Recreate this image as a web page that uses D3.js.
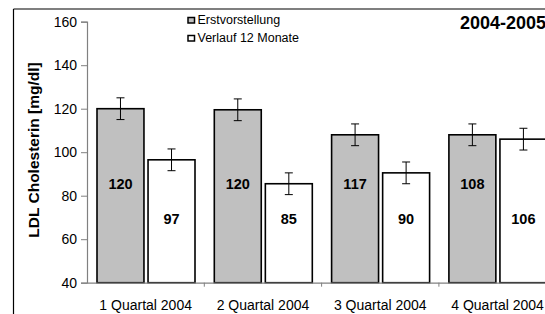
<!DOCTYPE html>
<html>
<head>
<meta charset="utf-8">
<script src="https://cdn.jsdelivr.net/npm/d3@7"></script>
<style>
  body { margin: 0; background: #fff; }
  svg { display: block; font-family: "Liberation Sans", Arial, sans-serif; }
</style>
</head>
<body>
<div class="chart"></div>
<script>
// data
const quarters = ["1 Quartal 2004", "2 Quartal 2004", "3 Quartal 2004", "4 Quartal 2004"]
const seriesNames = ["Erstvorstellung", "Verlauf 12 Monate"]
const erstValues = [120, 119.5, 108, 108]
const verlaufValues = [96.5, 85.5, 90.5, 106]
const erstLabels = [120, 120, 117, 108]
const verlaufLabels = [97, 85, 90, 106]
const erstError = [5, 5, 5, 5]
const verlaufError = [5, 5, 5, 5]
const yTicks = [40, 60, 80, 100, 120, 140, 160]

const width = 545, height = 314
const margin = ({top: 21.7, left: 87, bottom: 31.3})

const colors = {erst: "#c0c0c0", verlauf: "#ffffff"}

const rows = quarters.map((q, i) => ({
  quarter: q,
  bars: [
    {key: "erst", value: erstValues[i], label: erstLabels[i], err: erstError[i]},
    {key: "verlauf", value: verlaufValues[i], label: verlaufLabels[i], err: verlaufError[i]}
  ]
}))

const svg = d3.select(".chart").append("svg")
  .attr("width", width)
  .attr("height", height)

// outer frame (only top and left edges show)
svg.append("line").attr("x1", 13.5).attr("x2", width).attr("y1", 9).attr("y2", 9)
  .attr("stroke", "#000").attr("stroke-width", 1.2)
svg.append("line").attr("x1", 13.5).attr("x2", 13.5).attr("y1", 9).attr("y2", height)
  .attr("stroke", "#000").attr("stroke-width", 1.2)

const xScale = d3.scaleBand()
  .domain(quarters)
  .range([margin.left, margin.left + 4 * 117.3])
  .padding(0)

const xSub = d3.scaleBand()
  .domain(["erst", "verlauf"])
  .range([10, 108])
  .paddingInner(0.08)

const yScale = d3.scaleLinear()
  .domain([40, 160])
  .range([height - margin.bottom, margin.top])

// bars
const groups = svg.selectAll(".grp")
  .data(rows)
  .enter()
  .append("g")
  .attr("class", "grp")
  .attr("transform", d => `translate(${xScale(d.quarter)},0)`)

groups.selectAll("rect")
  .data(d => d.bars)
  .enter()
  .append("rect")
  .attr("x", d => xSub(d.key))
  .attr("y", d => yScale(d.value))
  .attr("width", xSub.bandwidth())
  .attr("height", d => yScale(40) - yScale(d.value))
  .attr("fill", d => colors[d.key])
  .attr("stroke", "#000")
  .attr("stroke-width", 1.6)

// error bars
const eb = groups.selectAll(".err")
  .data(d => d.bars)
  .enter()
  .append("g")
  .attr("class", "err")
  .attr("stroke", "#000")
  .attr("stroke-width", 1)

eb.append("line")
  .attr("x1", d => xSub(d.key) + xSub.bandwidth() / 2)
  .attr("x2", d => xSub(d.key) + xSub.bandwidth() / 2)
  .attr("y1", d => yScale(d.value + d.err))
  .attr("y2", d => yScale(d.value - d.err))
eb.append("line")
  .attr("x1", d => xSub(d.key) + xSub.bandwidth() / 2 - 4)
  .attr("x2", d => xSub(d.key) + xSub.bandwidth() / 2 + 4)
  .attr("y1", d => yScale(d.value + d.err))
  .attr("y2", d => yScale(d.value + d.err))
eb.append("line")
  .attr("x1", d => xSub(d.key) + xSub.bandwidth() / 2 - 4)
  .attr("x2", d => xSub(d.key) + xSub.bandwidth() / 2 + 4)
  .attr("y1", d => yScale(d.value - d.err))
  .attr("y2", d => yScale(d.value - d.err))

// value labels inside bars
groups.selectAll(".lbl")
  .data(d => d.bars)
  .enter()
  .append("text")
  .attr("class", "lbl")
  .attr("x", d => xSub(d.key) + xSub.bandwidth() / 2)
  .attr("y", d => d.key === "erst" ? yScale(85.5) : yScale(69.5))
  .attr("dy", "0.36em")
  .attr("text-anchor", "middle")
  .style("font-size", "14.5px")
  .style("font-weight", "bold")
  .text(d => d.label)

// axes
const yAxis = d3.axisLeft(yScale)
  .tickValues(yTicks)
  .tickSize(6)
  .tickPadding(4)

const yG = svg.append("g")
  .attr("class", "axis y-axis")
  .attr("transform", `translate(${margin.left},0)`)
  .call(yAxis)

const xAxis = d3.axisBottom(xScale)
  .tickSize(0)
  .tickPadding(17)

const xG = svg.append("g")
  .attr("class", "axis x-axis")
  .attr("transform", `translate(0,${yScale(40)})`)
  .call(xAxis)

// boundary ticks between categories
xG.selectAll(".bound")
  .data(quarters)
  .enter()
  .append("line")
  .attr("class", "bound")
  .attr("x1", d => xScale(d) + xScale.bandwidth())
  .attr("x2", d => xScale(d) + xScale.bandwidth())
  .attr("y1", 0)
  .attr("y2", 4)
  .attr("stroke", "#808080")

svg.selectAll(".axis .domain").attr("stroke", "#808080").attr("stroke-width", 1.2)
svg.selectAll(".axis .tick line").attr("stroke", "#808080")
svg.selectAll(".axis text")
  .attr("fill", "#000")
  .style("font-family", "'Liberation Sans', Arial, sans-serif")
  .style("font-size", "14px")

// y axis title
svg.append("text")
  .attr("class", "yaxisTitle")
  .attr("transform", "translate(33,150) rotate(-90)")
  .attr("dy", "0.36em")
  .attr("text-anchor", "middle")
  .style("font-size", "15.5px")
  .style("font-weight", "bold")
  .text("LDL Cholesterin [mg/dl]")

// legend
const legend = svg.append("g").attr("class", "legend")
seriesNames.forEach((name, i) => {
  legend.append("rect")
    .attr("x", 188)
    .attr("y", 17.5 + i * 18)
    .attr("width", 6.5)
    .attr("height", 5.5)
    .attr("fill", i === 0 ? colors.erst : colors.verlauf)
    .attr("stroke", "#000")
    .attr("stroke-width", 1.5)
  legend.append("text")
    .attr("x", 197.5)
    .attr("y", 24 + i * 17.6)
    .style("font-size", "12.5px")
    .text(name)
})

// title
svg.append("text")
  .attr("x", 460)
  .attr("y", 29)
  .style("font-size", "18px")
  .style("font-weight", "bold")
  .text("2004-2005")
</script>
</body>
</html>
